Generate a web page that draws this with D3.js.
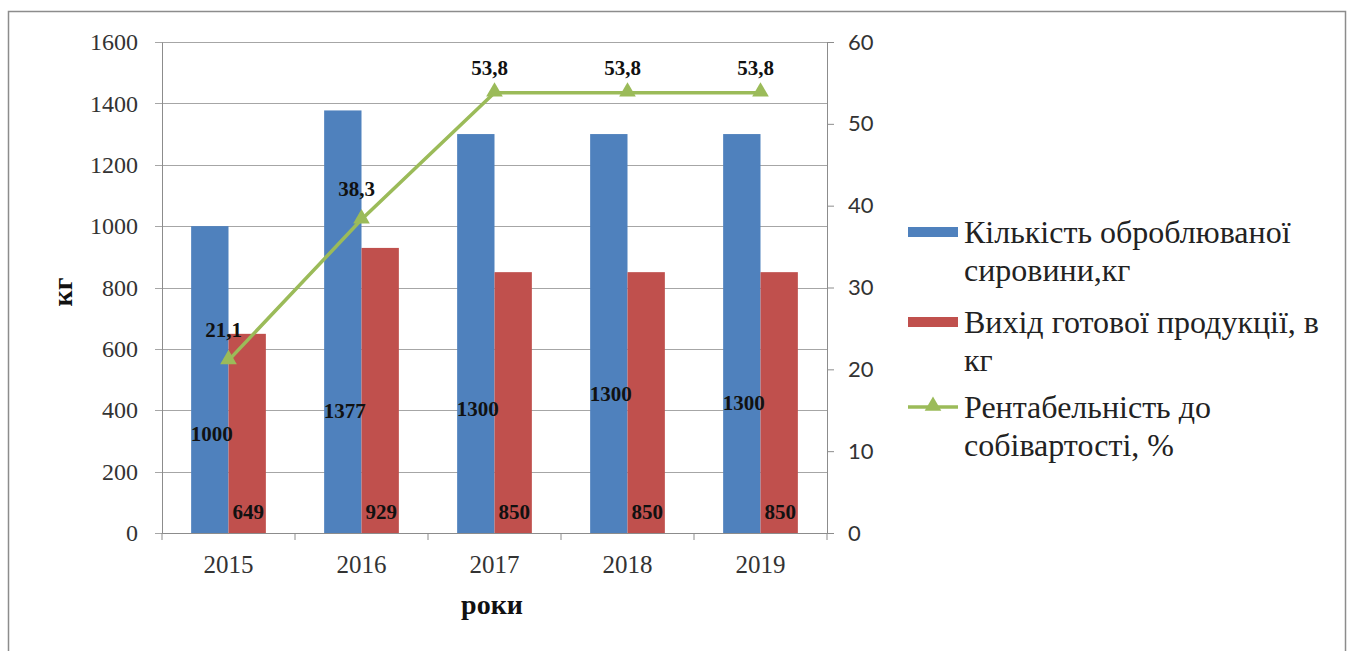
<!DOCTYPE html>
<html><head><meta charset="utf-8">
<script src="https://cdn.jsdelivr.net/npm/d3@7"></script>
<style>
html,body{margin:0;padding:0;background:#fff;}
svg{display:block;}
</style></head>
<body>
<svg id="chart" width="1352" height="651"></svg>
<script>
const years = ["2015","2016","2017","2018","2019"];
const rawMaterial = [1000,1377,1300,1300,1300];
const output = [649,929,850,850,850];
const profitability = [21.1,38.3,53.8,53.8,53.8];
const profitLabels = ["21,1","38,3","53,8","53,8","53,8"];
const leftTicks = [0,200,400,600,800,1000,1200,1400,1600];
const rightTicks = [0,10,20,30,40,50,60];
const blueLabelAt = [325,400,405,455,425];
const seriesNames = [
  ["Кількість оброблюваної","сировини,кг"],
  ["Вихід готової продукції, в","кг"],
  ["Рентабельність до","собівартості, %"]
];
const colors = {blue:"#4F81BD", red:"#C0504D", green:"#9BBB59"};

const svg = d3.select("#chart");
const serif = "'Liberation Serif','Times New Roman',serif";
const sans = "Lato,'Liberation Sans',sans-serif";

// frame
svg.append("rect").attr("x",8.5).attr("y",11.5).attr("width",1337).attr("height",660)
  .attr("fill","#fff").attr("stroke","#8c8c8c").attr("stroke-width",1.5);

const L = 162, R = 827, T = 42, B = 533;
const x = d3.scaleBand().domain(years).range([L,R]).padding(0);
const yL = d3.scaleLinear().domain([0,1600]).range([B,T]);
const yR = d3.scaleLinear().domain([0,60]).range([B,T]);
const inner = d3.scaleBand().domain(["a","b"]).range([0,x.bandwidth()]).paddingInner(0).paddingOuter(0.78);

// grid
svg.append("g").selectAll("line").data(leftTicks).join("line")
  .attr("x1",L-7).attr("x2",R).attr("y1",d=>Math.round(yL(d))+0.5).attr("y2",d=>Math.round(yL(d))+0.5)
  .attr("stroke","#a6a6a6").attr("stroke-width",1);

// left axis
const gL = svg.append("g").attr("transform",`translate(${L},0)`)
  .call(d3.axisLeft(yL).tickValues(leftTicks).tickFormat(d3.format("d")).tickSize(0).tickPadding(24));
gL.select(".domain").attr("stroke","#8c8c8c");
gL.selectAll("text").style("font-family",serif).style("font-size","24px").attr("fill","#333");

// right axis
const gR = svg.append("g").attr("transform",`translate(${R},0)`)
  .call(d3.axisRight(yR).tickValues(rightTicks).tickSize(7).tickPadding(14).tickSizeOuter(0));
gR.select(".domain").attr("stroke","#8c8c8c");
gR.selectAll(".tick line").attr("stroke","#8c8c8c");
gR.selectAll("text").style("font-family",sans).style("font-size","22px").attr("fill","#333");

// bottom axis
const gB = svg.append("g").attr("transform",`translate(0,${B})`)
  .call(d3.axisBottom(x).tickSize(0).tickPadding(22));
gB.select(".domain").attr("stroke","#8c8c8c");
gB.selectAll("text").style("font-family",serif).style("font-size","25px").attr("fill","#333");
gB.selectAll("line.bnd").data(d3.range(years.length+1)).join("line").attr("class","bnd")
  .attr("x1",i=>L+i*x.bandwidth()).attr("x2",i=>L+i*x.bandwidth())
  .attr("y1",0).attr("y2",7).attr("stroke","#8c8c8c");

// bars
svg.append("g").selectAll("rect").data(years).join("rect")
  .attr("x",(d)=>x(d)+inner("a")).attr("width",inner.bandwidth())
  .attr("y",(d,i)=>yL(rawMaterial[i])).attr("height",(d,i)=>B-yL(rawMaterial[i]))
  .attr("fill",colors.blue);
svg.append("g").selectAll("rect").data(years).join("rect")
  .attr("x",(d)=>x(d)+inner("b")).attr("width",inner.bandwidth())
  .attr("y",(d,i)=>yL(output[i])).attr("height",(d,i)=>B-yL(output[i]))
  .attr("fill",colors.red);

// bar labels
svg.append("g").selectAll("text").data(years).join("text")
  .attr("x",d=>x(d)+inner("a")+inner.bandwidth()/2+2)
  .attr("y",(d,i)=>yL(blueLabelAt[i])).attr("dy","0.35em")
  .attr("text-anchor","middle").style("font-family",serif).attr("font-weight","bold")
  .style("font-size","21px").attr("fill","#111").text((d,i)=>rawMaterial[i]);
svg.append("g").selectAll("text").data(years).join("text")
  .attr("x",d=>x(d)+inner("b")+inner.bandwidth()/2+1)
  .attr("y",B-21).attr("dy","0.35em")
  .attr("text-anchor","middle").style("font-family",serif).attr("font-weight","bold")
  .style("font-size","21px").attr("fill","#111").text((d,i)=>output[i]);

// line
const cx = d=>x(d)+x.bandwidth()/2;
svg.append("path").datum(years)
  .attr("d",d3.line().x(cx).y((d,i)=>yR(profitability[i])))
  .attr("fill","none").attr("stroke",colors.green).attr("stroke-width",3.5);
const tri = d3.symbol().type(d3.symbolTriangle).size(120);
svg.append("g").selectAll("path").data(years).join("path")
  .attr("d",tri).attr("transform",(d,i)=>`translate(${cx(d)},${yR(profitability[i])-1})`)
  .attr("fill",colors.green);
svg.append("g").selectAll("text").data(years).join("text")
  .attr("x",d=>cx(d)-5)
  .attr("y",(d,i)=>yR(profitability[i]) - (profitability[i]>50?25:31)).attr("dy","0.35em")
  .attr("text-anchor","middle").style("font-family",serif).attr("font-weight","bold")
  .style("font-size","21px").attr("fill","#111").text((d,i)=>profitLabels[i]);

// axis titles
svg.append("text").attr("transform","translate(72,292) rotate(-90)")
  .attr("text-anchor","middle").style("font-family",serif).attr("font-weight","bold")
  .style("font-size","28px").attr("fill","#111").text("кг");
svg.append("text").attr("x",492).attr("y",604).attr("dy","0.35em")
  .attr("text-anchor","middle").style("font-family",serif).attr("font-weight","bold")
  .style("font-size","28px").attr("fill","#111").text("роки");

// legend
const legY = [232,322,407];
const lg = svg.append("g");
seriesNames.forEach((lines,k)=>{
  const y0 = legY[k];
  if(k<2){
    lg.append("rect").attr("x",908).attr("y",y0-5).attr("width",50).attr("height",10)
      .attr("fill",k===0?colors.blue:colors.red);
  } else {
    lg.append("line").attr("x1",908).attr("x2",958).attr("y1",y0).attr("y2",y0)
      .attr("stroke",colors.green).attr("stroke-width",3.5);
    lg.append("path").attr("d",tri).attr("transform",`translate(933,${y0-1})`).attr("fill",colors.green);
  }
  lines.forEach((t,j)=>{
    lg.append("text").attr("x",964).attr("y",y0+j*38).attr("dy","0.35em")
      .style("font-family",serif).style("font-size","32px").attr("fill","#222")
      .text(t);
  });
});
</script>
</body></html>
